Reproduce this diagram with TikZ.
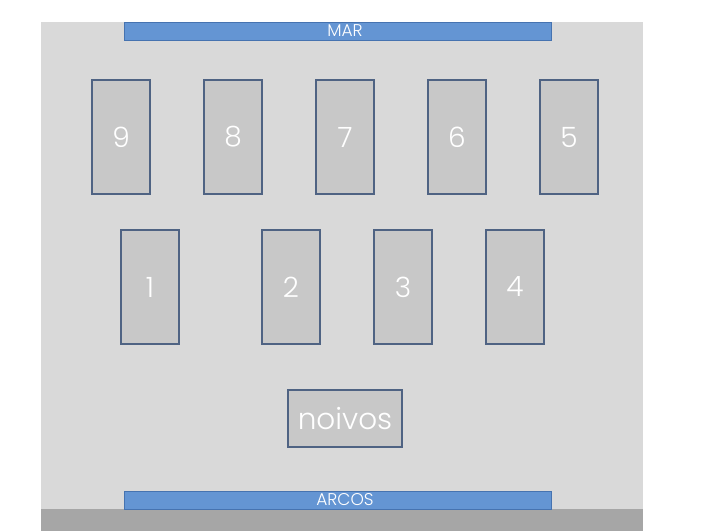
\documentclass[tikz,border=0pt]{standalone}
\usepackage{fontspec}
\setmainfont{Poppins Light}
\usepackage{tikz}
\usetikzlibrary{positioning}
\definecolor{salao}{HTML}{D9D9D9}
\definecolor{parede}{HTML}{A6A6A6}
\definecolor{mesacor}{HTML}{C8C8C8}
\definecolor{mesaborda}{HTML}{4F6383}
\definecolor{faixaazul}{HTML}{6495D3}
\definecolor{faixaborda}{HTML}{4673B0}
\tikzstyle{mesa}=[draw=mesaborda, line width=1.2pt, fill=mesacor, text=white, minimum width=58, minimum height=114, inner sep=0pt, font=\fontsize{28}{28}\selectfont]
\tikzstyle{noivosbox}=[mesa, minimum width=114, minimum height=57, font=\fontsize{29.5}{29.5}\selectfont]
\tikzstyle{faixa}=[draw=faixaborda, line width=1pt, fill=faixaazul, minimum width=427, minimum height=18, inner sep=0pt]
\tikzstyle{faixatexto}=[text=white, inner sep=0pt, font=\fontsize{17}{17}\selectfont]

\begin{document}
\begin{tikzpicture}[x=1pt, y=-1pt]
    \useasboundingbox (0,0) rectangle (720,531);

    % Salao
    \fill[salao] (41,22) rectangle (643,531);
    \fill[parede] (41,509) rectangle (643,531);

    % Mar e arcos
    \node[faixa] (mar) at (337.5,31) {};
    \node[faixa] (arcos) at (337.5,500) {};
    \node[faixatexto] (martexto) at ([xshift=7.5pt]mar.center) {MAR};
    \node[faixatexto] (arcostexto) at ([xshift=7.5pt]arcos.center) {ARCOS};

    % Fila de tras
    \foreach \n/\x in {9/121, 8/233, 7/345, 6/457, 5/569} {
        \node[mesa] (mesa\n) at (\x,137) {\n};
    }

    % Fila da frente
    \foreach \n/\x in {1/150, 2/291, 3/403, 4/515} {
        \node[mesa] (mesa\n) at (\x,287) {\n};
    }

    % Mesa dos noivos
    \node[noivosbox] (noivos) at (345,418.5) {noivos};
\end{tikzpicture}
\end{document}
